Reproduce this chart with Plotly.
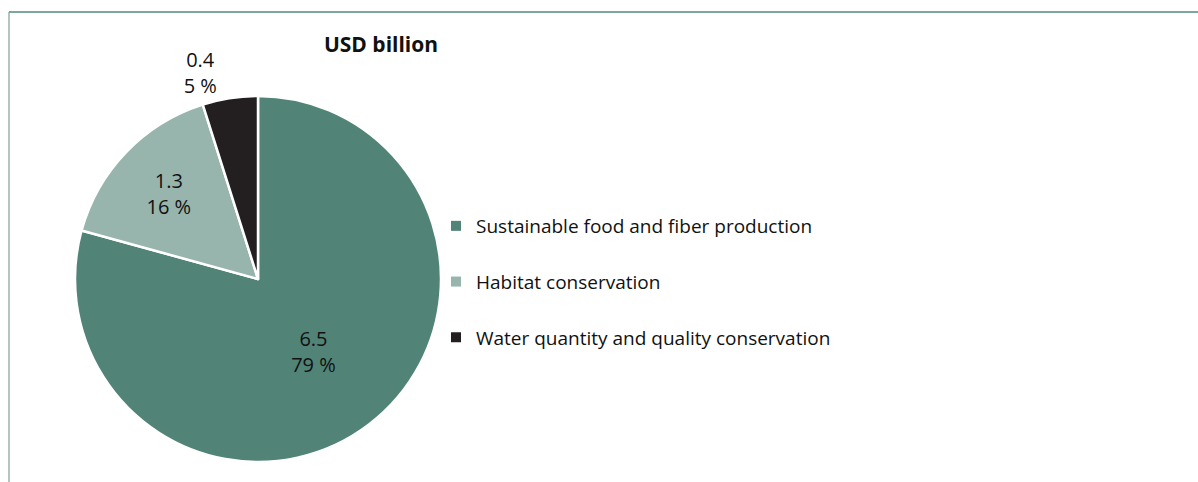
import plotly.graph_objects as go

categories = ["Sustainable food and fiber production", "Habitat conservation",
              "Water quantity and quality conservation"]
values = [6.5, 1.3, 0.4]
colors = ["#518477", "#97b4ad", "#231f20"]

total = sum(values)
texts = [f"{v}<br>{round(100 * v / total)} %" for v in values]

W, H = 1198, 482
cx, cy, r = 258, 279, 183

fig = go.Figure()
fig.add_trace(go.Pie(
    labels=categories, values=values, text=texts,
    textinfo="text", sort=False, direction="clockwise", rotation=0,
    marker=dict(colors=colors, line=dict(color="white", width=2.5)),
    textposition=["inside", "inside", "outside"],
    insidetextorientation="horizontal",
    textfont=dict(family="Open Sans", size=20, color="#111111"),
    showlegend=False,
    domain=dict(x=[(cx - r) / W, (cx + r) / W], y=[1 - (cy + r) / H, 1 - (cy - r) / H]),
    hoverinfo="label+value+percent",
))
for i, (c, col) in enumerate(zip(categories, colors)):
    fig.add_trace(go.Scatter(
        x=[None], y=[None], mode="markers", name=c, legendgroup=f"g{i}",
        marker=dict(symbol="square", size=10, color=col),
    ))

fig.update_layout(
    width=W, height=H,
    margin=dict(l=0, r=0, t=0, b=0),
    paper_bgcolor="white", plot_bgcolor="white",
    xaxis=dict(visible=False), yaxis=dict(visible=False),
    title=dict(text="<b>USD billion</b>", x=381 / W, xanchor="center",
               y=1 - 45 / H, yanchor="middle",
               font=dict(family="Open Sans", size=21, color="#111111")),
    legend=dict(x=436 / W, xanchor="left", y=1 - 207 / H, yanchor="top",
                font=dict(family="Open Sans", size=19, color="#111111"),
                tracegroupgap=28, bgcolor="rgba(0,0,0,0)"),
    shapes=[
        dict(type="line", xref="paper", yref="paper", x0=9 / W, x1=1, y0=1 - 12 / H, y1=1 - 12 / H,
             line=dict(color="#4f8a7c", width=1.5)),
        dict(type="line", xref="paper", yref="paper", x0=9 / W, x1=9 / W, y0=1 - 12 / H, y1=0,
             line=dict(color="#7f9f98", width=1.2)),
    ],
)
fig.write_html("out.html")
